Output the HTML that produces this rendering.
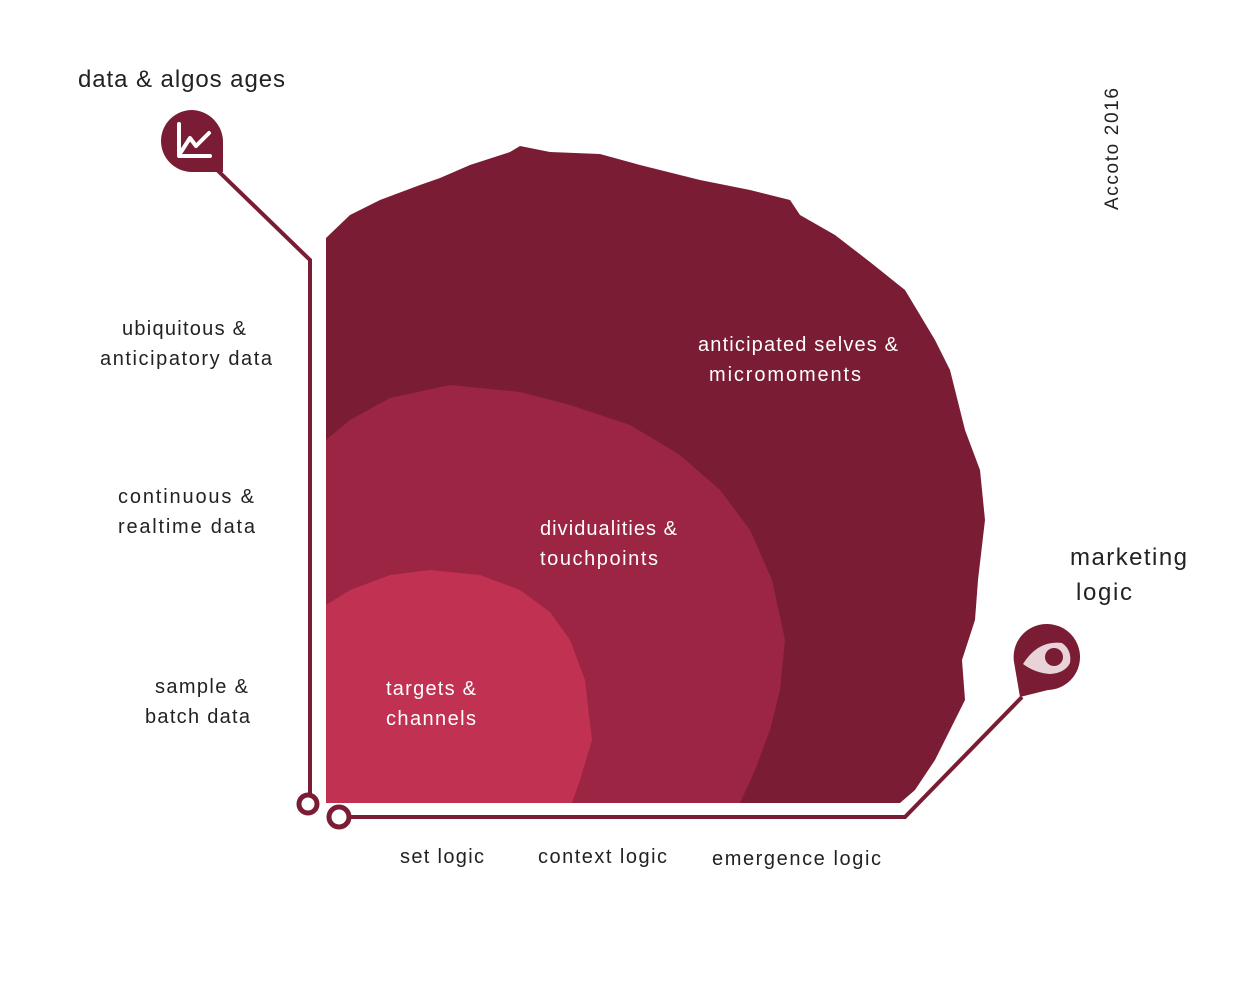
<!DOCTYPE html>
<html><head><style>
body{margin:0;background:#fff;}
svg text{font-family:"Liberation Sans",sans-serif;}
</style></head><body>
<svg width="1240" height="998" viewBox="0 0 1240 998" xmlns="http://www.w3.org/2000/svg">
<rect width="1240" height="998" fill="#fff"/>
<path d="M326 238 L350 215 L380 200 L420 185 L440 178 L470 165 L510 152 L520 146 L550 152 L600 154 L640 165 L700 180 L750 190 L790 200 L800 215 L835 235 L870 262 L905 290 L935 340 L950 370 L965 430 L980 470 L985 520 L978 580 L975 620 L962 660 L965 700 L945 740 L935 760 L915 790 L900 803 L326 803 Z" fill="#7a1d34"/>
<path d="M326 440 L350 420 L390 398 L450 385 L520 392 L570 405 L630 425 L680 455 L720 490 L750 530 L772 580 L785 640 L780 690 L770 730 L755 770 L740 803 L326 803 Z" fill="#9b2543"/>
<path d="M326 605 L350 590 L390 575 L430 570 L480 575 L520 590 L550 612 L570 640 L585 680 L592 740 L580 780 L572 803 L326 803 Z" fill="#c13152"/>
<g stroke="#7a1d34" stroke-width="4" fill="none">
<polyline points="212,165 310,260 310,795"/>
<polyline points="348,817 905,817 1022,697"/>
</g>
<circle cx="308" cy="804" r="9" fill="#fff" stroke="#7a1d34" stroke-width="5"/>
<circle cx="339" cy="817" r="10" fill="#fff" stroke="#7a1d34" stroke-width="5"/>
<path d="M192 110 A32 32 0 0 1 223 142 L223 172 L192 172 A31 31 0 0 1 192 110 Z" fill="#7a1d34"/>
<path d="M179 124 V156 H210 M181 152 L190 138 L196 146 L209 133" stroke="#fff" stroke-width="4" fill="none" stroke-linecap="round" stroke-linejoin="round"/>
<path d="M1046 624 A33 33 0 1 1 1048 690 L1020 697 L1014 662 A33 33 0 0 1 1046 624 Z" fill="#7a1d34"/>
<path d="M1023 664 Q1038 640 1062 643 Q1072 650 1070 663 Q1065 673 1050 674 Q1035 673 1023 664 Z" fill="#e7d3d8"/>
<circle cx="1054" cy="657" r="9" fill="#7a1d34"/>
<g fill="#222" font-size="22">
<text x="78" y="87" font-size="24" textLength="207">data &amp; algos ages</text>
<text x="1070" y="565" font-size="24" textLength="117">marketing</text>
<text x="1076" y="600" font-size="24" textLength="56">logic</text>
<text x="122" y="335" font-size="20" textLength="124">ubiquitous &amp;</text>
<text x="100" y="365" font-size="20" textLength="172">anticipatory  data</text>
<text x="118" y="503" font-size="20" textLength="136">continuous  &amp;</text>
<text x="118" y="533" font-size="20" textLength="137">realtime  data</text>
<text x="155" y="693" font-size="20" textLength="93">sample &amp;</text>
<text x="145" y="723" font-size="20" textLength="105">batch data</text>
<text x="400" y="863" font-size="20" textLength="84">set logic</text>
<text x="538" y="863" font-size="20" textLength="129">context logic</text>
<text x="712" y="865" font-size="20" textLength="169">emergence logic</text>
<text transform="translate(1118,210) rotate(-90)" font-size="19" textLength="122">Accoto 2016</text>
</g>
<g fill="#fff" font-size="20">
<text x="698" y="351" textLength="200">anticipated selves &amp;</text>
<text x="709" y="381" textLength="152">micromoments</text>
<text x="540" y="535" textLength="137">dividualities &amp;</text>
<text x="540" y="565" textLength="118">touchpoints</text>
<text x="386" y="695" textLength="90">targets &amp;</text>
<text x="386" y="725" textLength="90">channels</text>
</g>
</svg>
</body></html>
